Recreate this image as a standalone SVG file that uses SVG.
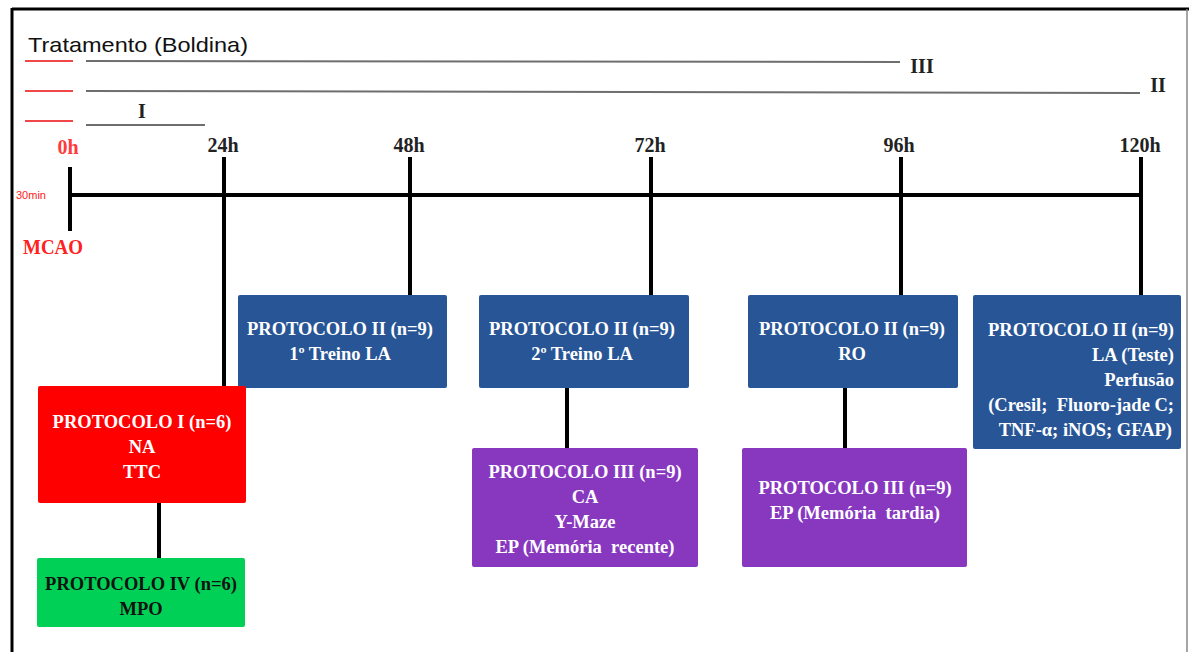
<svg xmlns="http://www.w3.org/2000/svg" width="1189" height="652" viewBox="0 0 1189 652">
<style>
.bt{font-family:"Liberation Serif","Times New Roman",serif;font-weight:bold;font-size:18.5px;text-anchor:middle;fill:#fff}
.tl{font-family:"Liberation Serif","Times New Roman",serif;font-weight:bold;font-size:20px;text-anchor:middle;fill:#222}
.conn{stroke:#000;stroke-width:4;fill:none}
.red{stroke:#f04848;stroke-width:2}
.gray{stroke:#6e6e6e;stroke-width:2}
.blue{fill:#285596}
.purple{fill:#8738bf}
</style>
<rect x="0" y="0" width="1189" height="652" fill="#fff"/>
<g id="frame">
<line x1="12" y1="9" x2="1189" y2="9" stroke="#000" stroke-width="3"/>
<line x1="12" y1="8" x2="12" y2="652" stroke="#000" stroke-width="3"/>
<line x1="1187" y1="9" x2="1187" y2="652" stroke="#888" stroke-width="1.5"/>
</g>
<g id="treatment">
<text x="28" y="52" font-family="Liberation Sans,Arial,sans-serif" font-size="21" fill="#111" textLength="220" lengthAdjust="spacingAndGlyphs">Tratamento (Boldina)</text>
<line class="red" x1="25" y1="61" x2="73" y2="61"/>
<line class="red" x1="25" y1="91" x2="73" y2="91"/>
<line class="red" x1="25" y1="121" x2="73" y2="121"/>
<line class="gray" x1="86" y1="61" x2="900" y2="62"/>
<line class="gray" x1="86" y1="91" x2="1140" y2="93"/>
<line class="gray" x1="86" y1="125" x2="205" y2="125"/>
<text class="tl" x="922" y="73">III</text>
<text class="tl" x="1158" y="92">II</text>
<text class="tl" x="142" y="118">I</text>
</g>
<g id="timeline">
<text class="tl" x="68" y="154" style="fill:#ff3b3b">0h</text>
<text class="tl" x="223" y="152">24h</text>
<text class="tl" x="409" y="152">48h</text>
<text class="tl" x="650" y="152">72h</text>
<text class="tl" x="899" y="152">96h</text>
<text class="tl" x="1140" y="152">120h</text>
<text x="16" y="199" font-family="Liberation Sans,Arial,sans-serif" font-size="11" fill="#ff2020">30min</text>
<text x="23" y="254" font-family="Liberation Serif,Times New Roman,serif" font-weight="bold" font-size="21" fill="#ff2020" textLength="60" lengthAdjust="spacingAndGlyphs">MCAO</text>
</g>
<g id="connectors">
<line class="conn" x1="70" y1="195" x2="1142" y2="195"/>
<line class="conn" x1="70" y1="167" x2="70" y2="231"/>
<line class="conn" x1="224" y1="157" x2="224" y2="388"/>
<line class="conn" x1="410" y1="157" x2="410" y2="296"/>
<line class="conn" x1="651" y1="157" x2="651" y2="296"/>
<line class="conn" x1="901" y1="157" x2="901" y2="296"/>
<line class="conn" x1="1141" y1="157" x2="1141" y2="296"/>
<line class="conn" x1="159" y1="503" x2="159" y2="558"/>
<line class="conn" x1="567" y1="388" x2="567" y2="448"/>
<line class="conn" x1="845" y1="388" x2="845" y2="448"/>
</g>
<g id="p2-48h">
<rect class="blue" x="238" y="295" width="209" height="93" rx="2"/>
<text class="bt" x="340" y="335">PROTOCOLO II (n=9)</text>
<text class="bt" x="340" y="360">1º Treino LA</text>
</g>
<g id="p2-72h">
<rect class="blue" x="479" y="295" width="210" height="93" rx="2"/>
<text class="bt" x="582" y="335">PROTOCOLO II (n=9)</text>
<text class="bt" x="582" y="360">2º Treino LA</text>
</g>
<g id="p2-96h">
<rect class="blue" x="748" y="295" width="210" height="93" rx="2"/>
<text class="bt" x="852" y="335">PROTOCOLO II (n=9)</text>
<text class="bt" x="852" y="360">RO</text>
</g>
<g id="p2-120h">
<rect class="blue" x="973" y="295" width="208" height="154" rx="2"/>
<text class="bt" x="1174" y="336" style="text-anchor:end">PROTOCOLO II (n=9)</text>
<text class="bt" x="1174" y="361" style="text-anchor:end">LA (Teste)</text>
<text class="bt" x="1174" y="386" style="text-anchor:end">Perfusão</text>
<text class="bt" x="1174" y="411" style="text-anchor:end">(Cresil;&#160; Fluoro-jade C;</text>
<text class="bt" x="1172" y="436" style="text-anchor:end">TNF-α; iNOS; GFAP)</text>
</g>
<g id="p1">
<rect x="38" y="386" width="208" height="117" rx="2" fill="#ff0000"/>
<text class="bt" x="142" y="428">PROTOCOLO I (n=6)</text>
<text class="bt" x="142" y="453">NA</text>
<text class="bt" x="142" y="478">TTC</text>
</g>
<g id="p4">
<rect x="37" y="558" width="208" height="69" rx="2" fill="#00d156"/>
<text class="bt" x="141" y="590" style="fill:#111">PROTOCOLO IV (n=6)</text>
<text class="bt" x="141" y="615" style="fill:#111">MPO</text>
</g>
<g id="p3-72h">
<rect class="purple" x="472" y="448" width="226" height="119" rx="2"/>
<text class="bt" x="585" y="478">PROTOCOLO III (n=9)</text>
<text class="bt" x="585" y="503">CA</text>
<text class="bt" x="585" y="528">Y-Maze</text>
<text class="bt" x="585" y="553">EP (Memória&#160; recente)</text>
</g>
<g id="p3-96h">
<rect class="purple" x="742" y="448" width="225" height="119" rx="2"/>
<text class="bt" x="855" y="494">PROTOCOLO III (n=9)</text>
<text class="bt" x="855" y="519">EP (Memória&#160; tardia)</text>
</g>
</svg>
